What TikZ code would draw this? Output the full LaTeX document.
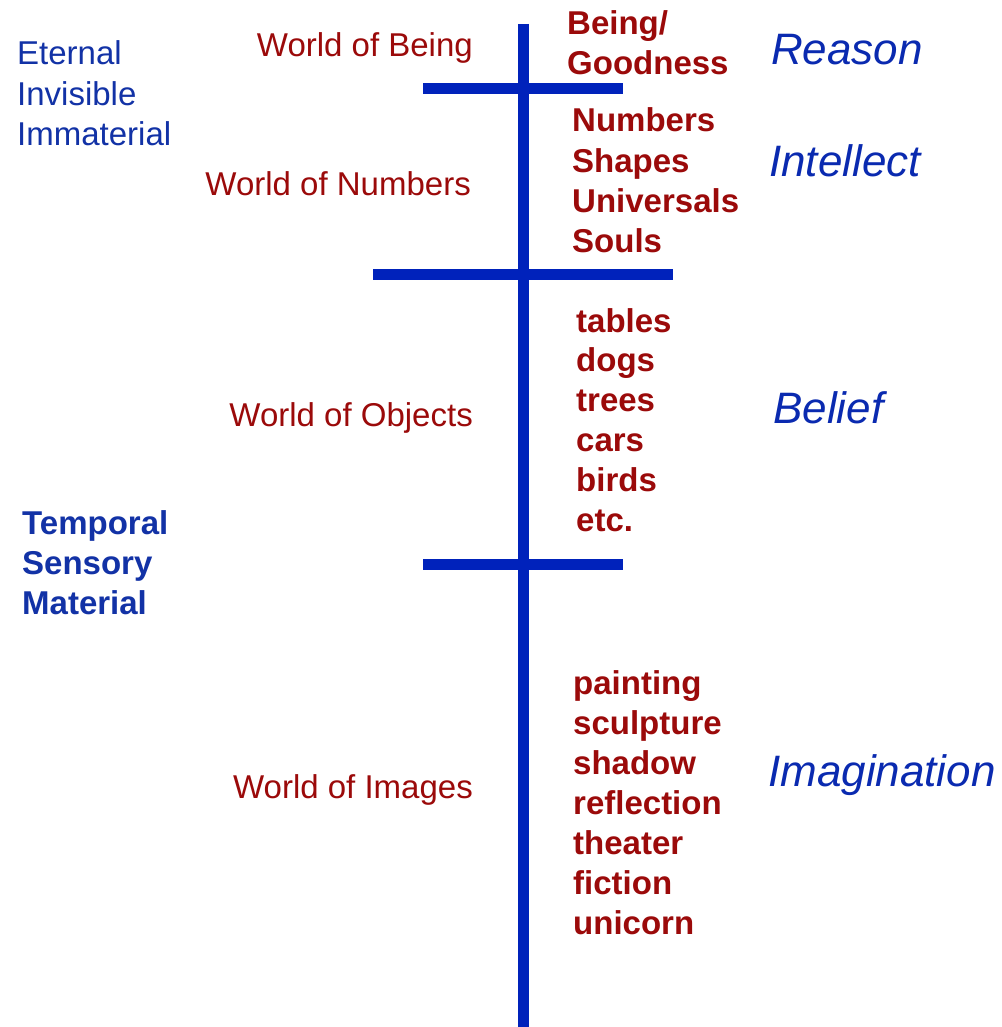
\documentclass[tikz,border=0pt]{standalone}
\usepackage{fontspec}
\setmainfont{Liberation Sans}
\definecolor{barblue}{HTML}{0022BB}
\definecolor{txtblue}{HTML}{1232A6}
\definecolor{itblue}{HTML}{0A2AB0}
\definecolor{txtred}{HTML}{9B0A0A}
\tikzset{
  bar/.style={line width=11pt, barblue},
  worldlbl/.style={font=\fontsize{33}{40}\selectfont, text=txtred, inner sep=0pt, anchor=base east},
  realmlbl/.style={font=\fontsize{33}{40}\selectfont, text=txtblue, inner sep=0pt, anchor=base west},
  realmbold/.style={realmlbl, font=\fontsize{33}{40}\selectfont\bfseries},
  itemlbl/.style={font=\fontsize{33}{40}\selectfont\bfseries, text=txtred, inner sep=0pt, anchor=base west},
  facultylbl/.style={font=\fontsize{44}{50}\selectfont\itshape, text=itblue, inner sep=0pt, anchor=base west}
}
\begin{document}
\begin{tikzpicture}[x=1pt, y=-1pt]
\useasboundingbox[fill=white] (0,0) rectangle (1001,1027);
% axis and crossbars
\coordinate (axtop) at (523,24);
\coordinate (axbot) at (523,1027);
\draw[bar] (axtop) -- (axbot);
\coordinate (b1l) at (423,88.5); \coordinate (b1r) at (623,88.5);
\coordinate (b2l) at (373,274.5); \coordinate (b2r) at (673,274.5);
\coordinate (b3l) at (423,564); \coordinate (b3r) at (623,564);
\draw[bar] (b1l) -- (b1r);
\draw[bar] (b2l) -- (b2r);
\draw[bar] (b3l) -- (b3r);
% worlds
\node[worldlbl] (wbeing) at (473,57) {World of Being};
\node[worldlbl] (wnum) at (471,195) {World of Numbers};
\node[worldlbl] (wobj) at (473,426) {World of Objects};
\node[worldlbl] (wimg) at (473,798) {World of Images};
% realms
\foreach \t [count=\i] in {Eternal,Invisible,Immaterial}
  \node[realmlbl] (eter\i) at (17,{65+40.5*(\i-1)}) {\t};
\foreach \t [count=\i] in {Temporal,Sensory,Material}
  \node[realmbold] (temp\i) at (22,{534+40*(\i-1)}) {\t};
% items
\foreach \t [count=\i] in {Being/,Goodness}
  \node[itemlbl] (good\i) at (567,{35+40*(\i-1)}) {\t};
\foreach \t [count=\i] in {Numbers,Shapes,Universals,Souls}
  \node[itemlbl] (num\i) at (572,{132+40*(\i-1)}) {\t};
\foreach \t [count=\i] in {tables,dogs,trees,cars,birds,etc.}
  \node[itemlbl] (obj\i) at (576,{332+39.8*(\i-1)}) {\t};
\foreach \t [count=\i] in {painting,sculpture,shadow,reflection,theater,fiction,unicorn}
  \node[itemlbl] (img\i) at (573,{694+40*(\i-1)}) {\t};
% faculties
\node[facultylbl] (reason) at (771,65) {Reason};
\node[facultylbl] (intellect) at (769,176) {Intellect};
\node[facultylbl] (belief) at (773,423) {Belief};
\node[facultylbl] (imagination) at (768,786) {Imagination};
\end{tikzpicture}
\end{document}
